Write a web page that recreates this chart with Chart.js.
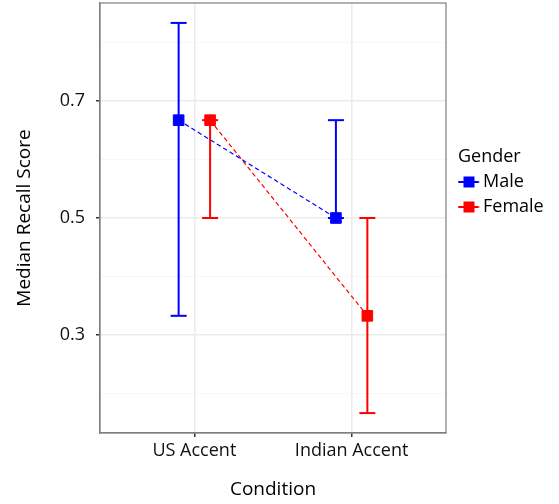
<!DOCTYPE html>
<html lang="en">
<head>
<meta charset="UTF-8">
<title>Median Recall Score by Condition</title>
<script src="https://cdn.jsdelivr.net/npm/chart.js"></script>
<style>
  body { margin: 0; background: #fff; }
  #wrap { width: 559px; height: 504px; }
</style>
</head>
<body>
<div id="wrap"><canvas id="chart" width="559" height="504"></canvas></div>
<script>
  // categories on the x axis and the two groups
  const conditions = ['US Accent', 'Indian Accent'];
  const genders = ['Male', 'Female'];
  const genderColors = ['#0000ff', '#ff0000'];

  // medians and error bar ends, one value per condition
  const maleMedian = [0.667, 0.5];
  const maleLow = [0.333, 0.5];
  const maleHigh = [0.833, 0.667];
  const femaleMedian = [0.667, 0.333];
  const femaleLow = [0.5, 0.167];
  const femaleHigh = [0.667, 0.5];

  // y grid: labelled breaks and the minor lines between them
  const yTicks = [0.2, 0.3, 0.4, 0.5, 0.6, 0.7, 0.8];
  const yLabelled = [0.3, 0.5, 0.7];

  const medians = [maleMedian, femaleMedian];
  const lows = [maleLow, femaleLow];
  const highs = [maleHigh, femaleHigh];
  const dodge = [-0.1, 0.1];

  const isLabelled = v => yLabelled.some(t => Math.abs(t - v) < 1e-6);

  // legend key: short line with a square on it
  function makeKey(color) {
    const c = document.createElement('canvas');
    c.width = 30; c.height = 14;
    const k = c.getContext('2d');
    k.strokeStyle = color; k.lineWidth = 2;
    k.beginPath(); k.moveTo(3.5, 7); k.lineTo(24.5, 7); k.stroke();
    k.fillStyle = color;
    k.fillRect(9, 1.5, 11, 11);
    return c;
  }
  const keys = genderColors.map(makeKey);

  const datasets = [];
  // points joined by dashed lines
  genders.forEach((g, gi) => {
    datasets.push({
      label: g,
      data: conditions.map((c, i) => ({ x: i + 1 + dodge[gi], y: medians[gi][i] })),
      showLine: true,
      borderColor: genderColors[gi],
      borderWidth: 1.2,
      borderDash: [4.5, 3],
      pointStyle: 'rect',
      pointRadius: 7.5,
      pointHoverRadius: 7.5,
      pointBackgroundColor: genderColors[gi],
      pointBorderColor: genderColors[gi],
      pointBorderWidth: 1
    });
  });
  // error bars: vertical segment with caps at both ends
  genders.forEach((g, gi) => {
    conditions.forEach((c, i) => {
      const x = i + 1 + dodge[gi];
      datasets.push({
        label: g + ' range',
        data: [{ x: x, y: lows[gi][i] }, { x: x, y: highs[gi][i] }],
        showLine: true,
        borderColor: genderColors[gi],
        borderWidth: 2,
        pointStyle: 'line',
        pointRadius: 8,
        pointHoverRadius: 8,
        pointBorderColor: genderColors[gi],
        pointBorderWidth: 2
      });
    });
  });

  // grey frame around the panel
  const panelBorder = {
    id: 'panelBorder',
    beforeDatasetsDraw(chart) {
      const a = chart.chartArea, ctx = chart.ctx;
      ctx.save();
      ctx.strokeStyle = '#7f7f7f';
      ctx.lineWidth = 1.2;
      ctx.strokeRect(a.left, a.top, a.right - a.left, a.bottom - a.top);
      ctx.restore();
    }
  };

  Chart.defaults.font.family = '"Open Sans", sans-serif';
  Chart.defaults.font.size = 18;
  Chart.defaults.color = '#000';

  new Chart(document.getElementById('chart'), {
    type: 'scatter',
    data: { datasets: datasets },
    plugins: [panelBorder],
    options: {
      responsive: false,
      animation: false,
      layout: { autoPadding: false, padding: { top: 3, right: 9, bottom: 0, left: 0 } },
      plugins: {
        tooltip: { enabled: false },
        legend: {
          position: 'right',
          align: 'start',
          maxWidth: 92,
          title: {
            display: true,
            text: 'Gender',
            position: 'start',
            color: '#000',
            font: { size: 18, lineHeight: 1 },
            padding: { top: 145, bottom: 0 }
          },
          labels: {
            usePointStyle: true,
            pointStyleWidth: 9,
            padding: 7,
            color: '#000',
            font: { size: 18 },
            generateLabels: () => genders.map((g, i) => ({
              text: g,
              fillStyle: genderColors[i],
              strokeStyle: genderColors[i],
              lineWidth: 0,
              pointStyle: keys[i],
              hidden: false,
              datasetIndex: i,
              fontColor: '#000'
            }))
          }
        }
      },
      scales: {
        x: {
          type: 'linear',
          min: 0.4,
          max: 2.6,
          afterBuildTicks: s => { s.ticks = conditions.map((c, i) => ({ value: i + 1 })); },
          afterFit: s => { s.height = 71; s.paddingLeft = 0; s.paddingRight = 0; },
          ticks: {
            padding: 3,
            color: '#111',
            font: { size: 18 },
            callback: v => conditions[Math.round(v) - 1]
          },
          grid: { color: '#ebebeb', lineWidth: 1.5, tickColor: '#333', tickLength: 4 },
          border: { color: '#7f7f7f', width: 1.2 },
          title: { display: true, text: 'Condition', color: '#000', font: { size: 19 }, padding: { top: 0, bottom: 3 } }
        },
        y: {
          type: 'linear',
          min: 0.133,
          max: 0.867,
          afterBuildTicks: s => { s.ticks = yTicks.map(v => ({ value: v })); },
          afterFit: s => { s.width = 100; s.paddingTop = 0; s.paddingBottom = 0; },
          ticks: {
            padding: 11,
            color: '#111',
            font: { size: 18 },
            callback: v => isLabelled(v) ? v.toFixed(1) : ''
          },
          grid: {
            color: c => isLabelled(c.tick.value) ? '#ebebeb' : '#f5f5f5',
            lineWidth: c => isLabelled(c.tick.value) ? 1.5 : 0.8,
            tickColor: c => isLabelled(c.tick.value) ? '#333' : 'rgba(0,0,0,0)',
            tickLength: 4
          },
          border: { color: '#7f7f7f', width: 1.2 },
          title: { display: true, text: 'Median Recall Score', color: '#000', font: { size: 19 }, padding: { top: 13, bottom: 0 } }
        },
        y2: {
          position: 'right',
          display: true,
          grid: { display: false, drawTicks: false },
          ticks: { display: false },
          border: { display: false },
          afterFit: s => { s.width = 12; s.paddingTop = 0; s.paddingBottom = 0; }
        }
      }
    }
  });
</script>
</body>
</html>
